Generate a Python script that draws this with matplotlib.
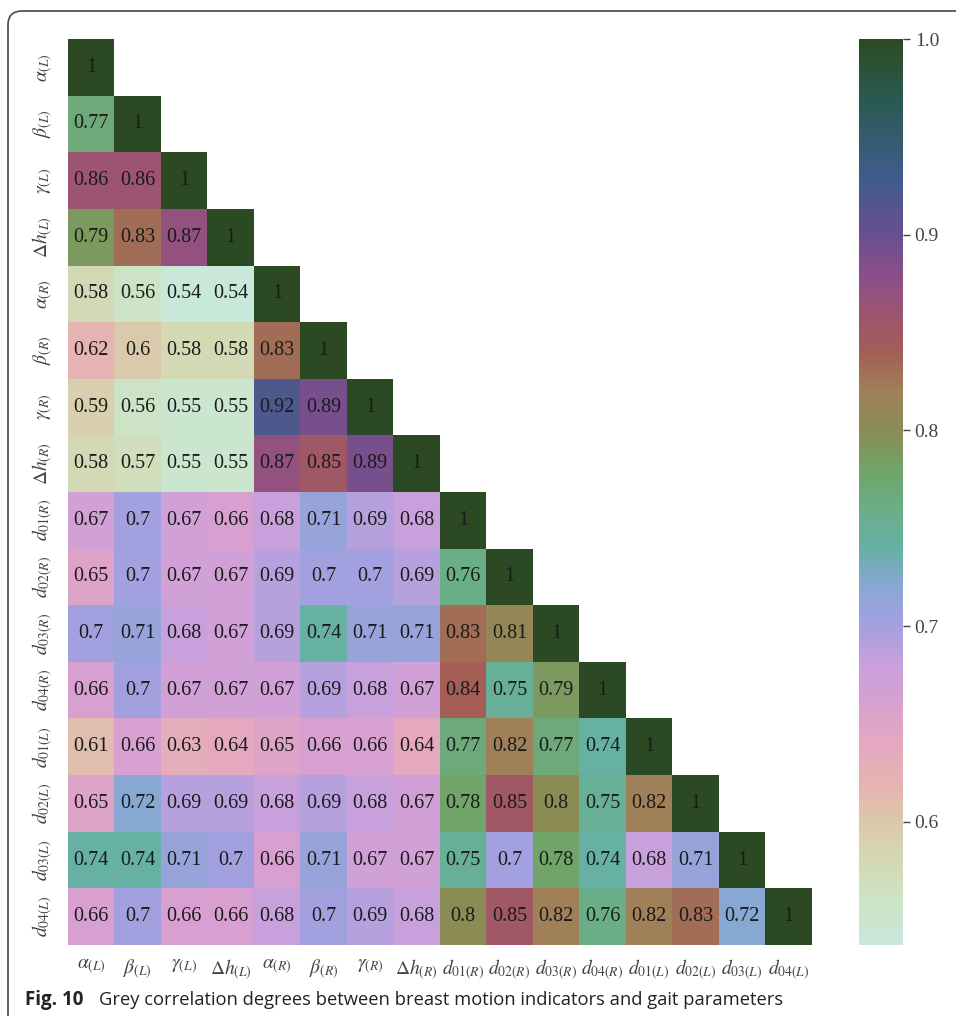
import numpy as np
import matplotlib
matplotlib.use('Agg')
import matplotlib.pyplot as plt
import seaborn as sns
from matplotlib.colors import LinearSegmentedColormap
from matplotlib.patches import FancyBboxPatch
from matplotlib.transforms import IdentityTransform

plt.rcParams['font.family'] = ['Liberation Serif', 'DejaVu Serif']
plt.rcParams['mathtext.fontset'] = 'stix'

labels = [r'$\alpha_{(L)}$', r'$\beta_{(L)}$', r'$\gamma_{(L)}$', r'$\Delta h_{(L)}$',
          r'$\alpha_{(R)}$', r'$\beta_{(R)}$', r'$\gamma_{(R)}$', r'$\Delta h_{(R)}$',
          r'$d_{01(R)}$', r'$d_{02(R)}$', r'$d_{03(R)}$', r'$d_{04(R)}$',
          r'$d_{01(L)}$', r'$d_{02(L)}$', r'$d_{03(L)}$', r'$d_{04(L)}$']

# lower triangle, row by row
rows = [
    [1],
    [0.77, 1],
    [0.86, 0.86, 1],
    [0.79, 0.83, 0.87, 1],
    [0.58, 0.56, 0.54, 0.54, 1],
    [0.62, 0.60, 0.58, 0.58, 0.83, 1],
    [0.59, 0.56, 0.55, 0.55, 0.92, 0.89, 1],
    [0.58, 0.57, 0.55, 0.55, 0.87, 0.85, 0.89, 1],
    [0.67, 0.70, 0.67, 0.66, 0.68, 0.71, 0.69, 0.68, 1],
    [0.65, 0.70, 0.67, 0.67, 0.69, 0.70, 0.70, 0.69, 0.76, 1],
    [0.70, 0.71, 0.68, 0.67, 0.69, 0.74, 0.71, 0.71, 0.83, 0.81, 1],
    [0.66, 0.70, 0.67, 0.67, 0.67, 0.69, 0.68, 0.67, 0.84, 0.75, 0.79, 1],
    [0.61, 0.66, 0.63, 0.64, 0.65, 0.66, 0.66, 0.64, 0.77, 0.82, 0.77, 0.74, 1],
    [0.65, 0.72, 0.69, 0.69, 0.68, 0.69, 0.68, 0.67, 0.78, 0.85, 0.80, 0.75, 0.82, 1],
    [0.74, 0.74, 0.71, 0.70, 0.66, 0.71, 0.67, 0.67, 0.75, 0.70, 0.78, 0.74, 0.68, 0.71, 1],
    [0.66, 0.70, 0.66, 0.66, 0.68, 0.70, 0.69, 0.68, 0.80, 0.85, 0.82, 0.76, 0.82, 0.83, 0.72, 1],
]

n = len(labels)
grid = np.full((n, n), np.nan)
for i, r in enumerate(rows):
    grid[i, :len(r)] = r

vmin, vmax = 0.537, 1.0
stops = [
    (0.537, '#c8e8dc'), (0.56, '#cce4c4'), (0.58, '#d4d8b4'), (0.60, '#dcc8aa'),
    (0.62, '#e6b2b2'), (0.64, '#e4a8c0'), (0.66, '#d8a0d0'), (0.68, '#c8a0dc'),
    (0.70, '#a4a0e0'), (0.72, '#88a8d4'), (0.74, '#66b0a4'), (0.76, '#6aae88'),
    (0.78, '#70a468'), (0.80, '#8a8c54'), (0.82, '#a08058'), (0.84, '#a45e56'),
    (0.86, '#9c5470'), (0.88, '#8a4f8a'), (0.90, '#6a4f90'), (0.93, '#3f5c8c'),
    (0.97, '#2a5a50'), (1.0, '#2b4a24'),
]
cmap = LinearSegmentedColormap.from_list(
    'grey_rel', [((v - vmin) / (vmax - vmin), c) for v, c in stops])

fig = plt.figure(figsize=(9.56, 10.16), dpi=100)
ax = fig.add_axes([0.0711, 0.0699, 0.778, 0.8917])
cax = fig.add_axes([0.8985, 0.0699, 0.046, 0.8917])

sns.heatmap(grid, mask=np.isnan(grid), cmap=cmap, vmin=vmin, vmax=vmax,
            annot=True, fmt='.2g',
            annot_kws={'fontsize': 14.5, 'color': '#1a1a1a'},
            xticklabels=labels, yticklabels=labels, ax=ax, cbar_ax=cax)

ax.tick_params(length=0, labelsize=14, colors='#444444', pad=9)
plt.setp(ax.get_yticklabels(), rotation=90, va='center')
plt.setp(ax.get_xticklabels(), rotation=0)

cax.set_yticks([0.6, 0.7, 0.8, 0.9, 1.0])
cax.set_yticklabels(['0.6', '0.7', '0.8', '0.9', '1.0'])
cax.tick_params(labelsize=14, length=5, width=1, colors='#444444')

frame = FancyBboxPatch((8, -60), 1100, 1065, boxstyle='round,pad=0,rounding_size=14',
                       transform=IdentityTransform(), fill=False,
                       edgecolor='#555555', linewidth=1.3)
fig.add_artist(frame)

fig.text(25 / 956, 1 - 1000 / 1016, 'Fig. 10', family='Open Sans', weight='bold',
         fontsize=13.5, va='center', color='#222222')
fig.text(99 / 956, 1 - 1000 / 1016,
         'Grey correlation degrees between breast motion indicators and gait parameters',
         family='Open Sans', fontsize=13.2, va='center', color='#222222')

fig.savefig('out.png', dpi=100)
